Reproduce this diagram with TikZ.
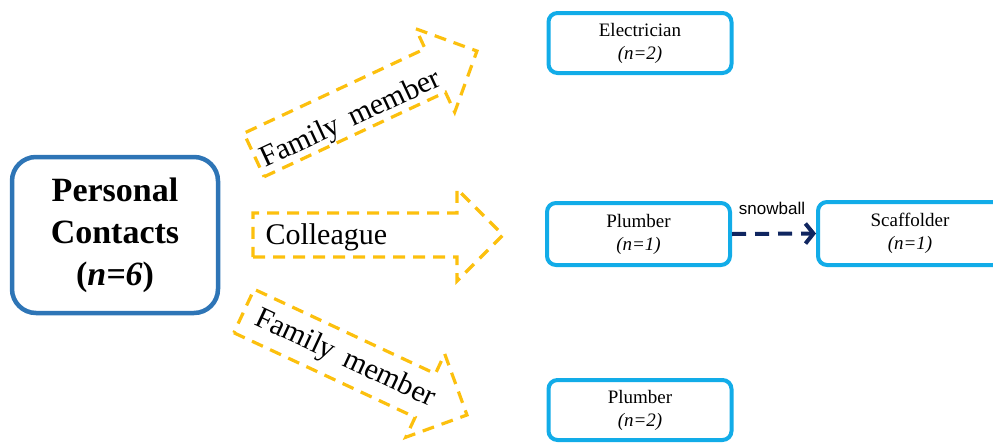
\documentclass[tikz,border=0pt]{standalone}
\usepackage{fontspec}
\setmainfont{Liberation Serif}
\newfontfamily\arialfont{Liberation Sans}
\usetikzlibrary{arrows.meta}
\definecolor{mainblue}{RGB}{46,117,182}
\definecolor{lightblue}{RGB}{18,172,232}
\definecolor{gold}{RGB}{252,192,14}
\definecolor{navy}{RGB}{16,38,96}
\tikzset{
  yarrow/.style={draw=gold, line width=3.2pt, dash pattern=on 12pt off 8pt, line join=miter},
  mainbox/.style={draw=mainblue, line width=4.5pt, rounded corners=24pt, minimum width=206pt, minimum height=156pt, align=center, font=\bfseries\fontsize{34}{42}\selectfont, fill=white},
  smallbox/.style={draw=lightblue, line width=4pt, rounded corners=9pt, minimum width=183pt, align=center, font=\fontsize{19}{23}\selectfont, fill=white},
  arrowtext/.style={font=\fontsize{30}{36}\selectfont},
  snow/.style={draw=navy, line width=4pt, dash pattern=on 14pt off 9pt, -{Straight Barb[length=8pt,width=20pt,line width=4pt]}}
}
\newcommand\yellowarrow[6]{% x, y, angle, half body, body length, half head
  \begin{scope}[shift={(#1,#2)}, rotate=#3]
    \draw[yarrow] (0,#4) -- (#5,#4) -- (#5,#6) -- ({#5+#6},0) -- (#5,-#6) -- (#5,-#4) -- (0,-#4) -- cycle;
  \end{scope}}
\begin{document}
\begin{tikzpicture}[x=1pt,y=-1pt]
\useasboundingbox (0,0) rectangle (993,442);
\clip (0,0) rectangle (993,442);
% yellow arrows
\yellowarrow{254}{155}{25}{24}{200}{46}
\yellowarrow{253}{235}{0}{22}{204}{46}
\yellowarrow{244}{311}{-25}{24}{200}{46}
\node[arrowtext, rotate=25] (fam1) at (351,120) {Family\, member};
\node[arrowtext, anchor=west] (coll) at (262,237) {Colleague};
\node[arrowtext, rotate=-25] (fam2) at (345,359) {Family\, member};
% main box
\node[mainbox] (pc) at (115,235) {Personal\\Contacts\\(\textit{n=6})};
% small boxes
\node[smallbox, minimum height=60pt] (el) at (640,43) {Electrician\\\textit{(n=2)}};
\node[smallbox, minimum height=62pt] (pm) at (638.5,234) {Plumber\\\textit{(n=1)}};
\node[smallbox, minimum height=63pt, minimum width=184pt] (sc) at (910,233.5) {Scaffolder\\\textit{(n=1)}};
\node[smallbox, minimum height=60pt] (pb) at (640,410) {Plumber\\\textit{(n=2)}};
% snowball
\draw[snow] (pm.east) -- (sc.west);
\node[font=\arialfont\fontsize{17}{20}\selectfont] (sb) at (772,208) {snowball};
\end{tikzpicture}
\end{document}
